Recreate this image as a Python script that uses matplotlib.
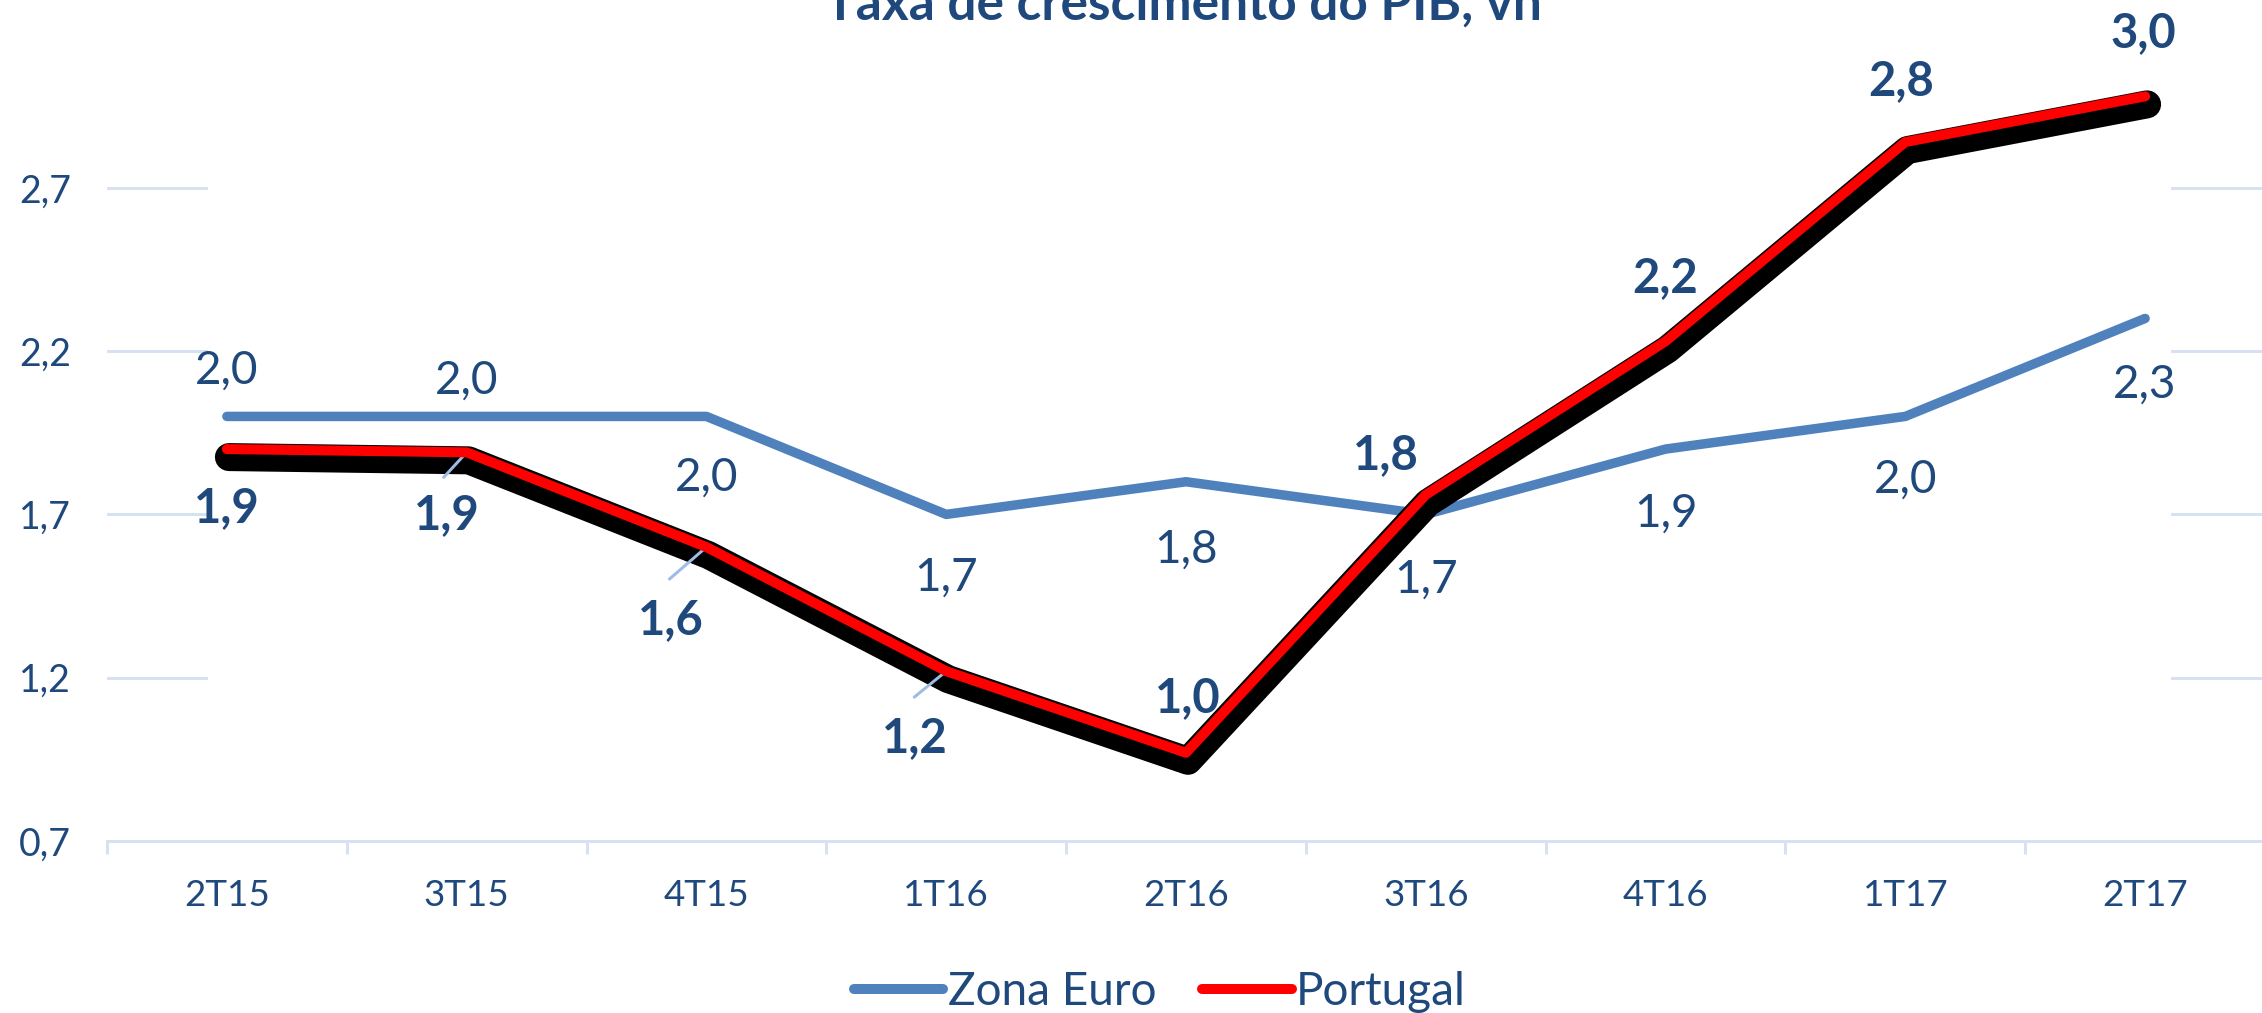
import matplotlib
matplotlib.use("Agg")
import matplotlib.pyplot as plt
import matplotlib.transforms as mtransforms
from matplotlib.lines import Line2D

plt.rcParams['font.family'] = ['Lato', 'DejaVu Sans']

categories = ["2T15", "3T15", "4T15", "1T16", "2T16", "3T16", "4T16", "1T17", "2T17"]
zona_euro = [2.0, 2.0, 2.0, 1.7, 1.8, 1.7, 1.9, 2.0, 2.3]
portugal = [1.9, 1.89, 1.6, 1.22, 0.97, 1.76, 2.23, 2.84, 2.98]
zona_labels = ["2,0", "2,0", "2,0", "1,7", "1,8", "1,7", "1,9", "2,0", "2,3"]
portugal_labels = ["1,9", "1,9", "1,6", "1,2", "1,0", "1,8", "2,2", "2,8", "3,0"]
yticks = [0.7, 1.2, 1.7, 2.2, 2.7]
ytick_labels = ["0,7", "1,2", "1,7", "2,2", "2,7"]

TXT = "#1F497D"
BLUE = "#4F81BD"
GRID = "#D6E2F2"
W, H = 2262, 1013
DPI = 100
px = 72.0 / DPI  # points per pixel

fig = plt.figure(figsize=(W / DPI, H / DPI), dpi=DPI)
ax = fig.add_axes([107 / W, (H - 841) / H, 2158 / W, (841 - 24.5) / H])
x = list(range(len(categories)))
ax.set_xlim(-0.5, 8.5)
ax.set_ylim(0.7, 3.2)

for s in ax.spines.values():
    s.set_visible(False)

# gridlines (only short visible segments at left and right)
for yv in yticks[1:]:
    ax.axhline(yv, xmin=0, xmax=0.046, color=GRID, lw=3 * px, zorder=1)
    ax.axhline(yv, xmin=0.957, xmax=1.0, color=GRID, lw=3 * px, zorder=1)
ax.axhline(0.7, color=GRID, lw=3 * px, zorder=1, clip_on=False)

ax.set_yticks(yticks)
ax.set_yticklabels(ytick_labels)
ax.tick_params(axis='y', length=0, pad=36 * px, labelsize=27, labelcolor=TXT)
ax.set_xticks(x)
ax.set_xticklabels(categories)
ax.set_xticks([i - 0.5 for i in range(len(categories) + 1)], minor=True)
ax.tick_params(axis='x', which='major', length=0, pad=38 * px, labelsize=26.5, labelcolor=TXT)
ax.tick_params(axis='x', which='minor', length=13 * px, width=3 * px, color=GRID, direction='out')

# Zona Euro
ax.plot(x, zona_euro, color=BLUE, lw=9.5 * px, solid_capstyle='round', solid_joinstyle='round', zorder=3)

# Portugal with black shadow
shadow = mtransforms.offset_copy(ax.transData, fig=fig, x=2, y=-8, units='dots')
ax.plot(x, portugal, color='black', lw=28 * px, solid_capstyle='round', solid_joinstyle='round',
        transform=shadow, zorder=4)
ax.plot(x, portugal, color='#FF0000', lw=10 * px, solid_capstyle='round', solid_joinstyle='round', zorder=5)

# data labels (offsets in pixels)
zona_off = [(0, 46), (0, 36), (0, -61), (0, -63), (0, -68), (0, -65), (0, -65), (0, -63), (0, -66)]
for xi, yi, lab, (dx, dy) in zip(x, zona_euro, zona_labels, zona_off):
    ax.annotate(lab, (xi, yi), xytext=(dx * px, dy * px), textcoords='offset points',
                ha='center', va='center', fontsize=33, color=TXT, zorder=6)

port_off = [(0, -59), (-20, -63), (-36, -73), (-31, -67), (2, 55), (-40, 40), (0, 63), (-4, 61), (-2, 63)]
leader_end = [None, (-23, -25), (-37, -32), (-32, -26), None, None, None, None, None]
for xi, yi, lab, (dx, dy), le in zip(x, portugal, portugal_labels, port_off, leader_end):
    ax.annotate(lab, (xi, yi), xytext=(dx * px, dy * px), textcoords='offset points',
                ha='center', va='center', fontsize=34, fontweight='bold', color=TXT, zorder=6)
    if le is not None:
        ax.annotate('', (xi, yi), xytext=(le[0] * px, le[1] * px), textcoords='offset points',
                    zorder=4.5,
                    arrowprops=dict(arrowstyle='-', color='#9DBBE3', lw=3 * px, shrinkA=0, shrinkB=0))

# title (cut at top)
fig.text(1183 / W, (H - 20) / H, "Taxa de crescimento do PIB, vh", ha='center', va='baseline',
         fontsize=37, fontweight='bold', color=TXT)

# legend
handles = [Line2D([], [], color=BLUE, lw=10 * px, solid_capstyle='round'),
           Line2D([], [], color='#FF0000', lw=10 * px, solid_capstyle='round')]
leg = fig.legend(handles, ["Zona Euro", "Portugal"], loc='center', bbox_to_anchor=(1160 / W, (H - 992) / H),
                 ncol=2, frameon=False, fontsize=33, handlelength=1.95, handletextpad=0.1,
                 columnspacing=1.0, borderaxespad=0, borderpad=0)
for t in leg.get_texts():
    t.set_color(TXT)

fig.savefig("out.png", dpi=DPI)
